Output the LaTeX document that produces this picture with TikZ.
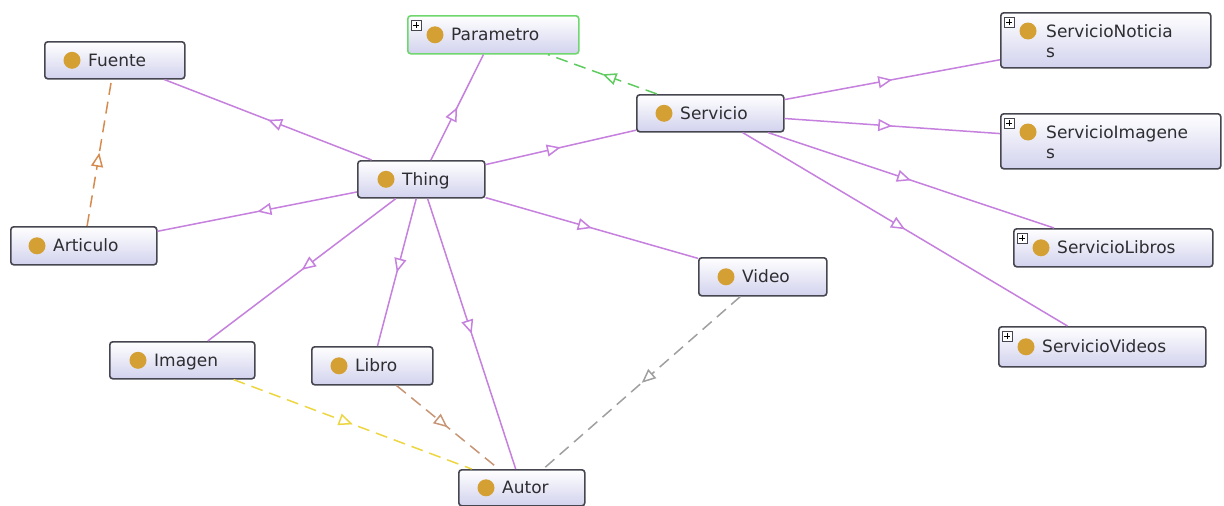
\documentclass[tikz,border=0pt]{standalone}
\usepackage{fontspec}
\setmainfont{DejaVu Sans}
\usetikzlibrary{arrows.meta,decorations.markings,calc}
\definecolor{edgep}{RGB}{198,128,222}
\definecolor{edgeg}{RGB}{96,204,96}
\definecolor{edgeo}{RGB}{214,140,80}
\definecolor{edgey}{RGB}{238,214,64}
\definecolor{edget}{RGB}{200,150,118}
\definecolor{edgegr}{RGB}{160,160,160}
\definecolor{boxborder}{RGB}{70,70,80}
\definecolor{boxbottom}{RGB}{210,210,238}
\definecolor{dotc}{RGB}{212,160,52}
\definecolor{txt}{RGB}{45,45,50}
\definecolor{greenborder}{RGB}{110,215,110}
\tikzset{
  cbox/.style={draw=boxborder, line width=1.6pt, rounded corners=3pt,
    top color=white, bottom color=boxbottom, inner sep=0pt},
  lbl/.style={inner sep=0pt, text=txt, font=\fontsize{17}{20}\selectfont},
  midarrow/.style={postaction={decorate}, decoration={markings,
    mark=at position 0.5 with {\arrow{Triangle[length=14pt,width=12pt,fill=white]}}}},
  subcl/.style={draw=edgep, line width=1.5pt, midarrow},
  objp/.style={line width=1.5pt, dash pattern=on 12pt off 7pt, midarrow},
}
\newcommand\ogone[8][]{%
  \node[cbox,#1,minimum width=#5pt,minimum height=#6pt,anchor=north west] (#2) at (#3,#4) {};
  \fill[dotc] ($(#2.west)+(#7,0)$) circle (8.5pt);
  \node[lbl,anchor=base west] (#2-t) at ($(#2.west)+(#7+16,6)$) {#8};}
\newcommand\ogtwo[7]{%
  \node[cbox,minimum width=#4pt,minimum height=#5pt,anchor=north west] (#1) at (#2,#3) {};
  \fill[dotc] ($(#1.north west)+(28,19)$) circle (8.5pt);
  \node[lbl,anchor=base west] (#1-t1) at ($(#1.north west)+(46,25)$) {#6};
  \node[lbl,anchor=base west] (#1-t2) at ($(#1.north west)+(46,45)$) {#7};}
\newcommand\ogplus[1]{%
  \begin{scope}[shift={(#1.north west)}]
    \draw[fill=white, draw=boxborder, line width=0.8pt] (4,5) rectangle (14,15);
    \draw[black, line width=1pt] (6,10) -- (12,10) (9,7) -- (9,13);
  \end{scope}}
\begin{document}
\begin{tikzpicture}[x=1pt,y=-1pt]
\useasboundingbox[fill=white] (0,0) rectangle (1224,506);
% classes
\ogone{fuente}{44}{41}{140}{37}{28}{Fuente}
\ogone[draw=greenborder]{parametro}{407}{15}{171}{38}{28}{Parametro}
\ogplus{parametro}
\ogtwo{snot}{1000}{12}{210}{55}{ServicioNoticia}{s}
\ogplus{snot}
\ogone{servicio}{636}{94}{147}{37}{28}{Servicio}
\ogtwo{simg}{1000}{113}{220}{55}{ServicioImagene}{s}
\ogplus{simg}
\ogone{thing}{357}{160}{127}{37}{29}{Thing}
\ogone{articulo}{10}{226}{146}{38}{27}{Articulo}
\ogone{slib}{1013}{228}{199}{38}{28}{ServicioLibros}
\ogplus{slib}
\ogone{video}{698}{257}{128}{38}{28}{Video}
\ogone{svid}{998}{326}{207}{40}{28}{ServicioVideos}
\ogplus{svid}
\ogone{imagen}{109}{341}{145}{37}{29}{Imagen}
\ogone{libro}{311}{346}{121}{38}{28}{Libro}
\ogone{autor}{458}{469}{126}{36}{28}{Autor}
% subclass edges
\draw[subcl] (thing) -- (fuente);
\draw[subcl] (thing) -- (parametro);
\draw[subcl] (thing) -- (servicio);
\draw[subcl] (thing) -- (articulo);
\draw[subcl] (thing) -- (imagen);
\draw[subcl] (thing) -- (libro);
\draw[subcl] (thing) -- (autor);
\draw[subcl] (thing) -- (video);
\draw[subcl] (servicio) -- (snot);
\draw[subcl] (servicio) -- (simg);
\draw[subcl] (servicio) -- (slib);
\draw[subcl] (servicio) -- (svid);
% object property edges
\draw[objp, draw=edgeg] (servicio) -- (parametro);
\draw[objp, draw=edgeo] (articulo) -- (fuente);
\draw[objp, draw=edgey] (imagen) -- (autor);
\draw[objp, draw=edget] (libro) -- (autor);
\draw[objp, draw=edgegr] (video) -- (autor);
\end{tikzpicture}
\end{document}
